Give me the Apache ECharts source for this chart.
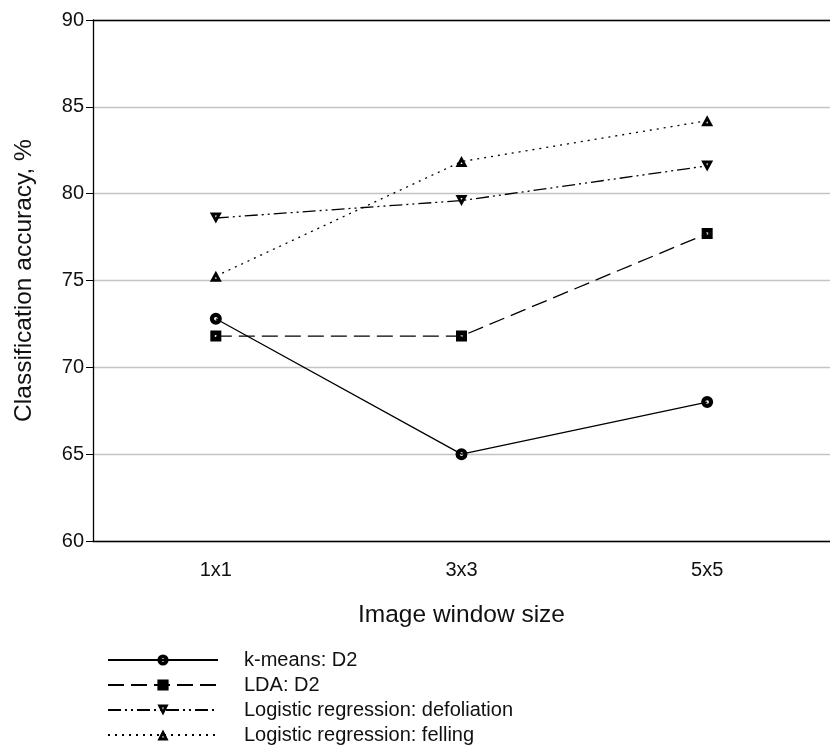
<!DOCTYPE html>
<html>
<head>
<meta charset="utf-8">
<script src="https://cdn.jsdelivr.net/npm/echarts@6/dist/echarts.min.js"></script>
<style>
  html, body { margin: 0; padding: 0; background: #fff; }
  #chart { width: 830px; height: 751px; }
</style>
</head>
<body>
<div id="chart"></div>
<script>
const categories = ["1x1", "3x3", "5x5"];
const kmeansD2 = [72.8, 65.0, 68.0];
const ldaD2 = [71.8, 71.8, 77.7];
const lrDefoliation = [78.6, 79.6, 81.6];
const lrFelling = [75.25, 81.85, 84.2];

const chart = echarts.init(document.getElementById("chart"));

const font = "'Liberation Sans', Arial, sans-serif";

// black markers with a small white dot in the middle (hole by opposite winding)
const symCircle =
  "path://M6,0 A6,6 0 1,1 6,12 A6,6 0 1,1 6,0 Z M6,4.2 A1.8,1.8 0 1,0 6,7.8 A1.8,1.8 0 1,0 6,4.2 Z";
const symRect = "path://M0,0 H11 V11 H0 Z M4.5,4.5 V6.5 H6.5 V4.5 Z";
const symTri = "path://M6,0 L12,11 L0,11 Z M6,6 L5,8 L7,8 Z";

function makeSeries(name, data, symbol, size, lineType, rotate) {
  return {
    name: name,
    type: "line",
    data: data,
    symbol: symbol,
    symbolSize: size,
    symbolKeepAspect: true,
    symbolRotate: rotate || 0,
    showAllSymbol: true,
    lineStyle: { color: "#000", width: 1.3, type: lineType },
    itemStyle: { color: "#000", borderWidth: 0 },
    emphasis: { disabled: true },
    z: 3,
  };
}

const option = {
  backgroundColor: "#fff",
  animation: false,
  grid: { left: 93, top: 20, right: -8, bottom: 210 },
  legend: {
    orient: "vertical",
    left: 107,
    top: 650,
    padding: 0,
    itemWidth: 110,
    itemHeight: 14,
    itemGap: 5,
    selectedMode: false,
    textStyle: {
      fontFamily: font,
      fontSize: 20,
      color: "#111",
      padding: [0, 0, 0, 21],
    },
    data: [
      "k-means: D2",
      "LDA: D2",
      "Logistic regression: defoliation",
      "Logistic regression: felling",
    ],
  },
  xAxis: [
    {
      type: "category",
      data: categories,
      boundaryGap: true,
      name: "Image window size",
      nameLocation: "middle",
      nameGap: 62,
      nameTextStyle: { fontFamily: font, fontSize: 24.5, color: "#111" },
      axisLine: { lineStyle: { color: "#000", width: 1.3 } },
      axisTick: { alignWithLabel: true, length: 7, lineStyle: { color: "#000" } },
      axisLabel: { fontFamily: font, fontSize: 20, color: "#111", margin: 19 },
      splitLine: { show: false },
    },
    {
      type: "category",
      data: categories,
      position: "top",
      axisLine: { lineStyle: { color: "#000", width: 1.3 } },
      axisTick: { show: false },
      axisLabel: { show: false },
      splitLine: { show: false },
    },
  ],
  yAxis: {
    type: "value",
    min: 60,
    max: 90,
    interval: 5,
    name: "Classification accuracy, %",
    nameLocation: "middle",
    nameGap: 56,
    nameTextStyle: { fontFamily: font, fontSize: 24.5, color: "#111" },
    axisLine: { show: true, lineStyle: { color: "#000", width: 1.3 } },
    axisTick: { show: true, length: 7, lineStyle: { color: "#000" } },
    axisLabel: { fontFamily: font, fontSize: 20, color: "#111", margin: 9 },
    splitLine: { show: true, lineStyle: { color: "#c4c4c4", width: 1.3 } },
  },
  series: [
    makeSeries("k-means: D2", kmeansD2, symCircle, 12, "solid"),
    makeSeries("LDA: D2", ldaD2, symRect, 11, [16, 7]),
    makeSeries("Logistic regression: defoliation", lrDefoliation, symTri, 12, [13, 4, 2, 4, 2, 4], 180),
    makeSeries("Logistic regression: felling", lrFelling, symTri, 12, [2, 5]),
  ],
};

chart.setOption(option);
</script>
</body>
</html>
